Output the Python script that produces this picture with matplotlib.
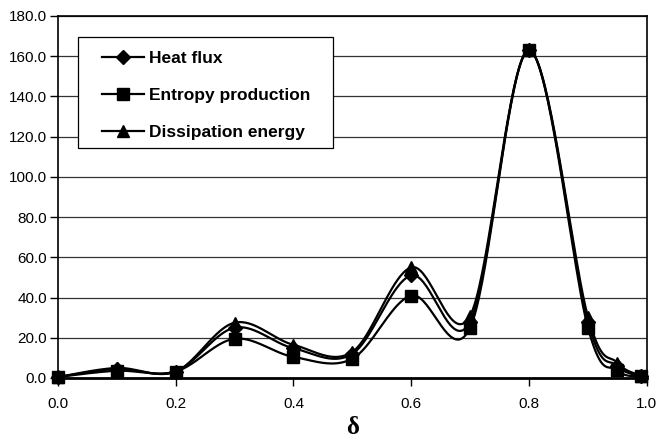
import numpy as np
import matplotlib.pyplot as plt
from matplotlib.lines import Line2D
from matplotlib.patches import Rectangle

delta = [0.0, 0.1, 0.2, 0.3, 0.4, 0.5, 0.6, 0.7, 0.8, 0.9, 0.95, 0.99]
heat_flux = [0.5, 4.5, 3.2, 25.0, 14.8, 12.0, 51.0, 28.0, 163.0, 28.0, 6.0, 1.0]
entropy_production = [0.5, 3.6, 3.2, 19.5, 10.5, 9.6, 41.0, 25.0, 163.0, 25.0, 3.8, 0.8]
dissipation_energy = [0.5, 5.0, 3.2, 27.5, 16.5, 13.0, 55.0, 31.0, 163.0, 30.5, 7.5, 1.2]


def smooth(xs, ys, n=40):
    # Bezier smoothing like spreadsheet "smoothed line" charts
    p = np.column_stack([xs, ys]).astype(float)
    ext = np.vstack([p[0], p, p[-1]])
    out = []
    t = np.linspace(0, 1, n)[:, None]
    for i in range(len(p) - 1):
        p0, p1, p2, p3 = ext[i], ext[i + 1], ext[i + 2], ext[i + 3]
        c1 = p1 + (p2 - p0) / 6
        c2 = p2 - (p3 - p1) / 6
        seg = ((1 - t) ** 3) * p1 + 3 * ((1 - t) ** 2) * t * c1 + 3 * (1 - t) * t ** 2 * c2 + t ** 3 * p2
        out.append(seg if i == 0 else seg[1:])
    out = np.vstack(out)
    return out[:, 0], out[:, 1]


plt.rcParams['font.family'] = ['Liberation Sans', 'DejaVu Sans']

fig = plt.figure(figsize=(6.58, 4.38), dpi=100)
ax = fig.add_axes([0.088, 0.137, 0.895, 0.8265])

series = [
    (dissipation_energy, '^', 9, 'Dissipation energy'),
    (heat_flux, 'D', 7, 'Heat flux'),
    (entropy_production, 's', 9, 'Entropy production'),
]
for z, (vals, mk, ms, lab) in enumerate(series):
    sx, sy = smooth(delta, vals)
    ax.plot(sx, sy, color='black', lw=1.6, zorder=3 + z, clip_on=False)
    ax.plot(delta, vals, ls='none', marker=mk, ms=ms, color='black', zorder=3 + z, clip_on=False)

ax.set_xlim(0, 1.0)
ax.set_ylim(0, 180)
ax.set_xticks(np.arange(0, 1.01, 0.2))
ax.set_yticks(np.arange(0, 181, 20))
ax.set_xticklabels([f'{v:.1f}' for v in np.arange(0, 1.01, 0.2)])
ax.set_yticklabels([f'{v:.1f}' for v in np.arange(0, 181, 20)])
ax.tick_params(direction='out', length=6, width=1, labelsize=11, colors='black')
ax.tick_params(axis='y', pad=2)
ax.tick_params(axis='x', pad=8)
ax.yaxis.grid(True, color='#333333', lw=0.9)
ax.set_axisbelow(True)
for s in ax.spines.values():
    s.set_linewidth(1.2)
ax.spines['bottom'].set_linewidth(2)

ax.set_xlabel('δ', family=['Liberation Serif', 'DejaVu Serif'], fontweight='bold',
              fontsize=18, labelpad=3)

# legend box drawn separately so the side padding can be wider than the top
box = Rectangle((0.1185, 0.662), 0.3875, 0.2535, transform=fig.transFigure,
                facecolor='white', edgecolor='black', lw=0.9, zorder=10)
fig.patches.append(box)

handles = [
    Line2D([], [], color='black', lw=1.6, marker='D', ms=7),
    Line2D([], [], color='black', lw=1.6, marker='s', ms=9),
    Line2D([], [], color='black', lw=1.6, marker='^', ms=9),
]
leg = fig.legend(handles, ['Heat flux', 'Entropy production', 'Dissipation energy'],
                 loc='upper left', bbox_to_anchor=(0.155, 0.884), frameon=False,
                 handlelength=2.4, prop={'weight': 'bold', 'size': 12.5},
                 labelspacing=1.25, borderpad=0, handletextpad=0.3, borderaxespad=0)
leg.set_zorder(11)

fig.savefig('out.png', dpi=100)
